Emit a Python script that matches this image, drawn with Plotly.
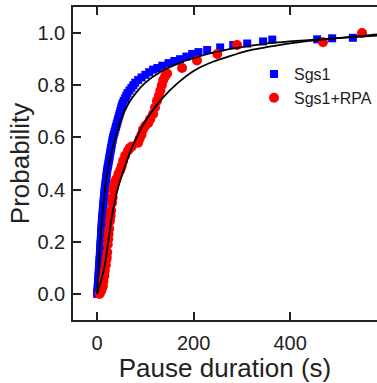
import plotly.graph_objects as go

# Sgs1 cumulative pause-duration distribution
sgs1_duration = [0, 0.5, 1, 1.4, 1.8, 2.2, 2.6, 3, 3.3, 3.6, 4, 4.3, 4.7, 5, 5.4, 5.7, 6, 6.4, 6.7, 7,
                 7.4, 7.7, 8, 8.4, 8.7, 9, 9.3, 9.7, 10, 10.5, 11, 11.4, 11.8, 12.3, 12.7, 13.2, 13.7,
                 14.2, 14.7, 15.2, 15.7, 16.3, 17, 17.7, 18.4, 19.1, 19.8, 20.5, 21.3, 22.3, 23.3, 24.3,
                 25.2, 26.1, 27, 28, 29, 30, 31, 32, 33, 34.5, 36, 37.5, 39, 40.5, 42, 43.5, 45, 46.5,
                 48, 49.5, 51, 52.5, 55, 58, 60.5, 63, 67, 71, 75, 79, 85, 92, 100, 108, 116, 125, 135,
                 148, 160, 172, 185, 197, 210, 228, 255, 282, 311, 344, 363, 456, 487, 530]
sgs1_probability = [0.00, 0.01, 0.02, 0.03, 0.04, 0.05, 0.06, 0.07, 0.08, 0.09, 0.10, 0.11, 0.12, 0.13,
                    0.14, 0.15, 0.16, 0.17, 0.18, 0.19, 0.20, 0.21, 0.22, 0.23, 0.24, 0.25, 0.26, 0.27,
                    0.28, 0.29, 0.30, 0.31, 0.32, 0.33, 0.34, 0.35, 0.36, 0.37, 0.38, 0.39, 0.40, 0.41,
                    0.42, 0.43, 0.44, 0.45, 0.46, 0.47, 0.48, 0.49, 0.50, 0.51, 0.52, 0.53, 0.54, 0.55,
                    0.56, 0.57, 0.58, 0.59, 0.60, 0.61, 0.62, 0.63, 0.64, 0.65, 0.66, 0.67, 0.68, 0.69,
                    0.70, 0.71, 0.72, 0.73, 0.74, 0.75, 0.76, 0.77, 0.78, 0.79, 0.80, 0.81, 0.82, 0.83,
                    0.84, 0.85, 0.86, 0.866, 0.875, 0.885, 0.893, 0.90, 0.91, 0.92, 0.927, 0.935, 0.945,
                    0.954, 0.96, 0.968, 0.975, 0.976, 0.98, 0.982]

# Sgs1+RPA cumulative pause-duration distribution
rpa_duration = [5, 8, 10, 12, 13, 15, 16, 18, 19, 20, 21, 22, 23, 23.5, 25, 26.5, 28, 29, 31, 32, 33,
                35, 37, 40, 44, 48, 51, 54, 58, 64, 68, 72, 85, 88, 92, 95, 100, 106, 110, 116, 120,
                124, 128, 131, 134, 137, 141, 145, 176, 207, 249, 290, 468, 549]
rpa_probability = [0.0, 0.01, 0.02, 0.03, 0.05, 0.07, 0.09, 0.11, 0.13, 0.14, 0.16, 0.19, 0.21, 0.23,
                   0.25, 0.28, 0.30, 0.32, 0.35, 0.37, 0.40, 0.41, 0.43, 0.44, 0.46, 0.475, 0.49, 0.51,
                   0.53, 0.55, 0.56, 0.565, 0.58, 0.595, 0.61, 0.63, 0.645, 0.655, 0.67, 0.69, 0.715,
                   0.74, 0.76, 0.78, 0.80, 0.82, 0.835, 0.845, 0.866, 0.895, 0.92, 0.954, 0.965, 1.0]

# Fitted curves
sgs1_fit_x = [0, 1.5, 3, 6, 10, 15, 20, 27, 37, 50, 65, 80, 100, 130, 170, 220, 280, 350, 450, 580]
sgs1_fit_y = [0, 0.05, 0.1, 0.19, 0.29, 0.38, 0.45, 0.52, 0.595, 0.67, 0.73, 0.77, 0.81, 0.85, 0.885,
              0.915, 0.94, 0.96, 0.975, 0.99]
rpa_fit_x = [0, 4, 8, 16, 23, 31, 41, 54, 72, 90, 106, 135, 168, 200, 240, 311, 380, 450, 580]
rpa_fit_y = [0, 0.025, 0.05, 0.11, 0.2, 0.3, 0.39, 0.47, 0.56, 0.63, 0.68, 0.75, 0.81, 0.855, 0.89,
             0.932, 0.955, 0.972, 0.995]

x_ticks = [0, 200, 400]
y_ticks = [0.0, 0.2, 0.4, 0.6, 0.8, 1.0]

fig = go.Figure()
fig.add_trace(go.Scatter(x=sgs1_duration, y=sgs1_probability, mode="markers", name="Sgs1",
                         marker=dict(symbol="square", size=8, color="#0000ff")))
fig.add_trace(go.Scatter(x=rpa_duration, y=rpa_probability, mode="markers", name="Sgs1+RPA",
                         marker=dict(symbol="circle", size=10, color="#ff0000")))
fig.add_trace(go.Scatter(x=sgs1_fit_x, y=sgs1_fit_y, mode="lines", showlegend=False,
                         line=dict(color="black", width=1.8, shape="spline", smoothing=0.5)))
fig.add_trace(go.Scatter(x=rpa_fit_x, y=rpa_fit_y, mode="lines", showlegend=False,
                         line=dict(color="black", width=1.8, shape="spline", smoothing=0.5)))

ink = "#222222"
axis_font = dict(family="Liberation Sans, Arial, sans-serif", size=20, color=ink)
title_font = dict(family="Liberation Sans, Arial, sans-serif", size=26, color=ink)
fig.update_layout(
    width=377, height=383,
    margin=dict(l=73, r=0, t=7, b=63),
    paper_bgcolor="white", plot_bgcolor="white",
    font=dict(family="Liberation Sans, Arial, sans-serif", color=ink),
    showlegend=True,
    legend=dict(x=1.0, y=0.84, xanchor="right", yanchor="top", bgcolor="rgba(0,0,0,0)",
                font=dict(size=16, color=ink), itemwidth=30, tracegroupgap=0),
    xaxis=dict(range=[-50, 580], tickvals=x_ticks, ticks="inside", ticklen=8, tickwidth=1.5,
               tickcolor=ink, showline=True, linecolor=ink, linewidth=1.5, automargin=False,
               mirror="ticks", showgrid=False, zeroline=False, tickfont=axis_font,
               ticklabelstandoff=4,
               title=dict(text="Pause duration (s)", font=title_font, standoff=4)),
    yaxis=dict(range=[-0.1, 1.1], tickvals=y_ticks, tickformat=".1f", ticks="inside", ticklen=8,
               tickwidth=1.5, tickcolor=ink, showline=True, linecolor=ink, linewidth=1.5,
               automargin=False, mirror=False, showgrid=False, zeroline=False, tickfont=axis_font,
               ticklabelstandoff=2,
               title=dict(text="Probability", font=title_font, standoff=0)),
)

fig.write_html("out.html", config={"displayModeBar": False},
               post_script="document.body.style.margin='0';")
